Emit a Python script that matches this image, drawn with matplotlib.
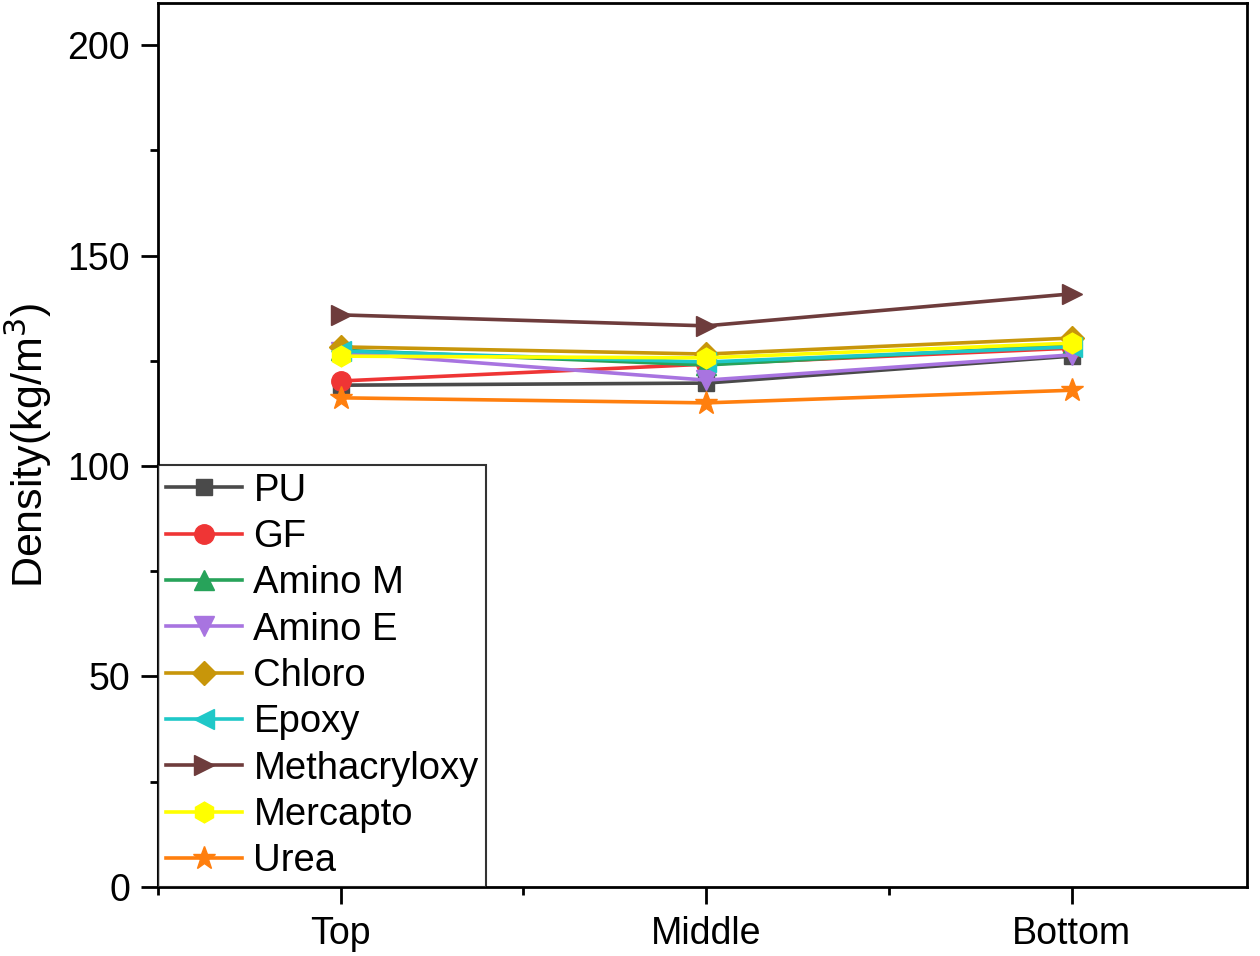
import numpy as np
import matplotlib
matplotlib.use("Agg")
import matplotlib.pyplot as plt
from matplotlib.ticker import MultipleLocator

plt.rcParams['font.family'] = ['Liberation Sans', 'DejaVu Sans']

positions = ["Top", "Middle", "Bottom"]

pu = [119.2, 119.7, 126.1]
gf = [120.2, 124.2, 128.0]
amino_m = [127.5, 124.0, 128.7]
amino_e = [127.0, 120.4, 126.4]
chloro = [128.3, 126.6, 130.4]
epoxy = [127.3, 124.7, 128.3]
methacryloxy = [135.9, 133.3, 140.9]
mercapto = [126.1, 125.7, 129.2]
urea = [116.2, 115.0, 118.0]

series = [
    ("PU", pu, "#4a4a4a", "s", 11),
    ("GF", gf, "#ef3535", "o", 14),
    ("Amino M", amino_m, "#27a35a", "^", 14),
    ("Amino E", amino_e, "#a874e0", "v", 14),
    ("Chloro", chloro, "#c8960a", "D", 12),
    ("Epoxy", epoxy, "#1fc8c8", "<", 14),
    ("Methacryloxy", methacryloxy, "#6e3c3c", ">", 14),
    ("Mercapto", mercapto, "#ffff00", "h", 15),
    ("Urea", urea, "#ff7f0e", "*", 17),
]

fig = plt.figure(figsize=(12.6, 9.56), dpi=100)
ax = fig.add_axes([0.1254, 0.0722, 0.8643, 0.9247])

x = np.arange(1, len(positions) + 1)
for name, vals, col, mk, ms in series:
    ax.plot(x, vals, color=col, marker=mk, markersize=ms, linewidth=2.6,
            markeredgecolor=col, label=name)

ax.set_xlim(0.5, 3.48)
ax.set_ylim(0, 210)
ax.set_xticks(x)
ax.set_xticklabels(positions)
ax.xaxis.set_minor_locator(MultipleLocator(0.5))
ax.yaxis.set_major_locator(MultipleLocator(50))
ax.yaxis.set_minor_locator(MultipleLocator(25))
ax.tick_params(which='major', direction='out', length=12, width=2, labelsize=27)
ax.tick_params(which='minor', direction='out', length=6, width=2)
ax.tick_params(axis='x', pad=9)
ax.tick_params(axis='y', pad=8)
for s in ax.spines.values():
    s.set_linewidth(2)

ax.set_ylabel("Density(kg/m$^3$)", fontsize=31, labelpad=10)

leg = ax.legend(loc='lower left', fontsize=27.5, frameon=True, fancybox=False,
                borderaxespad=0, handlelength=2.0, handletextpad=0.3,
                labelspacing=0.27, borderpad=0.2)
leg.get_frame().set_edgecolor('black')
leg.get_frame().set_linewidth(1.5)

fig.savefig("out.png", dpi=100)
